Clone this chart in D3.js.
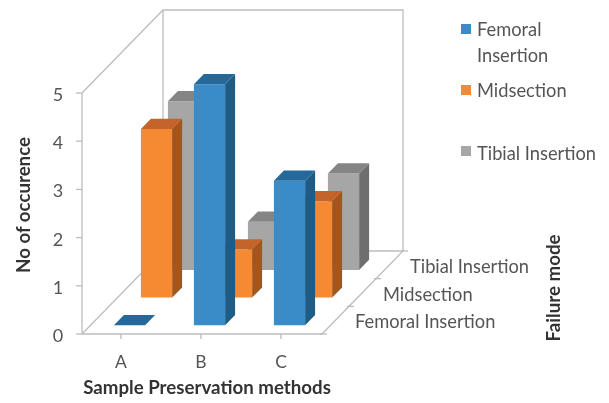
<!DOCTYPE html>
<html>
<head>
<meta charset="utf-8">
<script src="https://cdnjs.cloudflare.com/ajax/libs/d3/7.8.5/d3.min.js"></script>
<style>
  html, body { margin: 0; background: #fff; }
  svg { display: block; font-family: Lato, "Open Sans", sans-serif; filter: blur(0.45px); }
</style>
</head>
<body>
<div id="chart"></div>
<script>
const methods = ['A', 'B', 'C'];
const modes = ['Femoral Insertion', 'Midsection', 'Tibial Insertion'];
const femoralValues = [0, 5, 3];
const midsectionValues = [3.5, 1, 2];
const tibialValues = [3.5, 1, 2];
const yTicks = [0, 1, 2, 3, 4, 5];

const width = 609;
const height = 403;
const origin = { x: 82, y: 334 };
const floorWidth = 240;
const floorDepth = 81;
const depthRise = 83 / 81;
const wallColor = '#bdbdbd';
const labelColor = '#555';

const series = [
  { mode: modes[0], values: femoralValues, front: '#3a8cc8', side: '#1f5c85', top: '#25699b' },
  { mode: modes[1], values: midsectionValues, front: '#f58a33', side: '#a1561f', top: '#c4642a' },
  { mode: modes[2], values: tibialValues, front: '#a6a6a6', side: '#6e6e6e', top: '#858585' }
];

const xScale = d3.scaleBand().domain(methods).range([-1, floorWidth - 1]).paddingInner(0.61).paddingOuter(0.305);
const depthScale = d3.scaleBand().domain(modes).range([0, floorDepth]).paddingInner(0.63).paddingOuter(0.315);
const yScale = d3.scaleLinear().domain([0, 5]).range([0, 241]);

// 3d position -> screen position
const project = (x, depth, value) => [
  origin.x + x + depth,
  origin.y - yScale(value) - depth * depthRise
];
const poly = points => points.map(p => p.join(',')).join(' ');
const line = d3.line();

const svg = d3.select('#chart')
  .append('svg')
  .attr('width', width)
  .attr('height', height);

// WALLS AND FLOOR
const walls = svg.append('g')
  .attr('fill', 'none')
  .attr('stroke', wallColor)
  .attr('stroke-width', 1.3);

walls.append('path').attr('d', line([
  project(0, 0, 5), project(0, 0, 0), project(floorWidth, 0, 0),
  project(floorWidth, floorDepth, 0), project(0, floorDepth, 0), project(0, 0, 0)
]));
walls.append('path').attr('d', line([
  project(0, 0, 5), project(0, floorDepth, 5), project(floorWidth, floorDepth, 5), project(floorWidth, floorDepth, 0)
]));
walls.append('path').attr('d', line([project(0, floorDepth, 5), project(0, floorDepth, 0)]));

// Y AXIS
yTicks.forEach(t => {
  const p = project(0, 0, t);
  walls.append('line').attr('x1', p[0] - 6).attr('x2', p[0]).attr('y1', p[1]).attr('y2', p[1]);
  svg.append('text')
    .text(t)
    .attr('x', p[0] - 24)
    .attr('y', p[1] + 8)
    .attr('text-anchor', 'middle')
    .attr('font-size', 18)
    .attr('fill', labelColor);
});

// X AXIS
methods.forEach(m => {
  const cx = xScale(m) + xScale.bandwidth() / 2;
  const p = project(cx, 0, 0);
  walls.append('line').attr('x1', p[0]).attr('x2', p[0]).attr('y1', p[1]).attr('y2', p[1] + 5);
  svg.append('text')
    .text(m)
    .attr('x', p[0])
    .attr('y', p[1] + 34)
    .attr('text-anchor', 'middle')
    .attr('font-size', 17.5)
    .attr('fill', labelColor);
});

// DEPTH AXIS
const depthLabelX = { 'Femoral Insertion': 355, 'Midsection': 383, 'Tibial Insertion': 410 };
const depthLabelY = { 'Femoral Insertion': 328, 'Midsection': 301, 'Tibial Insertion': 273 };
modes.forEach((m, i) => {
  const p = project(floorWidth, depthScale.step() * i, 0);
  walls.append('line').attr('x1', p[0] - 2).attr('x2', p[0] + 5).attr('y1', p[1]).attr('y2', p[1]);
  svg.append('text')
    .text(m)
    .attr('x', depthLabelX[m])
    .attr('y', depthLabelY[m])
    .attr('font-size', 18.3)
    .attr('fill', labelColor);
});
walls.append('line')
  .attr('x1', project(floorWidth, floorDepth, 0)[0] - 2)
  .attr('x2', project(floorWidth, floorDepth, 0)[0] + 5)
  .attr('y1', project(floorWidth, floorDepth, 0)[1])
  .attr('y2', project(floorWidth, floorDepth, 0)[1]);

// BARS, back row first
const bw = xScale.bandwidth();
const bd = depthScale.bandwidth();

[...series].reverse().forEach(s => {
  const d0 = depthScale(s.mode);
  const d1 = d0 + bd;
  const bars = svg.append('g')
    .selectAll('g')
    .data(s.values.map((v, i) => ({ method: methods[i], value: v })))
    .join('g');

  bars.append('polygon')
    .attr('fill', s.side)
    .attr('points', d => {
      const x1 = xScale(d.method) + bw;
      return poly([project(x1, d0, 0), project(x1, d1, 0), project(x1, d1, d.value), project(x1, d0, d.value)]);
    });

  bars.append('polygon')
    .attr('fill', s.front)
    .attr('points', d => {
      const x0 = xScale(d.method);
      return poly([project(x0, d0, 0), project(x0 + bw, d0, 0), project(x0 + bw, d0, d.value), project(x0, d0, d.value)]);
    });

  bars.append('polygon')
    .attr('fill', s.top)
    .attr('points', d => {
      const x0 = xScale(d.method);
      return poly([project(x0, d0, d.value), project(x0 + bw, d0, d.value), project(x0 + bw, d1, d.value), project(x0, d1, d.value)]);
    });
});

// AXIS TITLES
svg.append('text')
  .text('No of occurence')
  .attr('transform', 'translate(30,205) rotate(-90)')
  .attr('text-anchor', 'middle')
  .attr('font-size', 18.7)
  .attr('font-weight', 700)
  .attr('fill', '#333');

svg.append('text')
  .text('Sample Preservation methods')
  .attr('x', 207)
  .attr('y', 394)
  .attr('text-anchor', 'middle')
  .attr('font-size', 18.7)
  .attr('font-weight', 700)
  .attr('fill', '#333');

svg.append('text')
  .text('Failure mode')
  .attr('transform', 'translate(560,288) rotate(-90)')
  .attr('text-anchor', 'middle')
  .attr('font-size', 18.7)
  .attr('font-weight', 700)
  .attr('fill', '#333');

// LEGEND
const legendRows = [
  { lines: ['Femoral', 'Insertion'], y: 29, color: series[0].front },
  { lines: ['Midsection'], y: 90, color: series[1].front },
  { lines: ['Tibial Insertion'], y: 151, color: series[2].front }
];
const legend = svg.append('g');
legendRows.forEach(r => {
  legend.append('rect')
    .attr('x', 461)
    .attr('y', r.y - 5)
    .attr('width', 10)
    .attr('height', 10)
    .attr('fill', r.color);
  r.lines.forEach((t, i) => {
    legend.append('text')
      .text(t)
      .attr('x', 477)
      .attr('y', r.y + (r.y === 151 ? 9 : 7) + i * 26)
      .attr('font-size', 18.3)
      .attr('fill', labelColor);
  });
});
</script>
</body>
</html>
